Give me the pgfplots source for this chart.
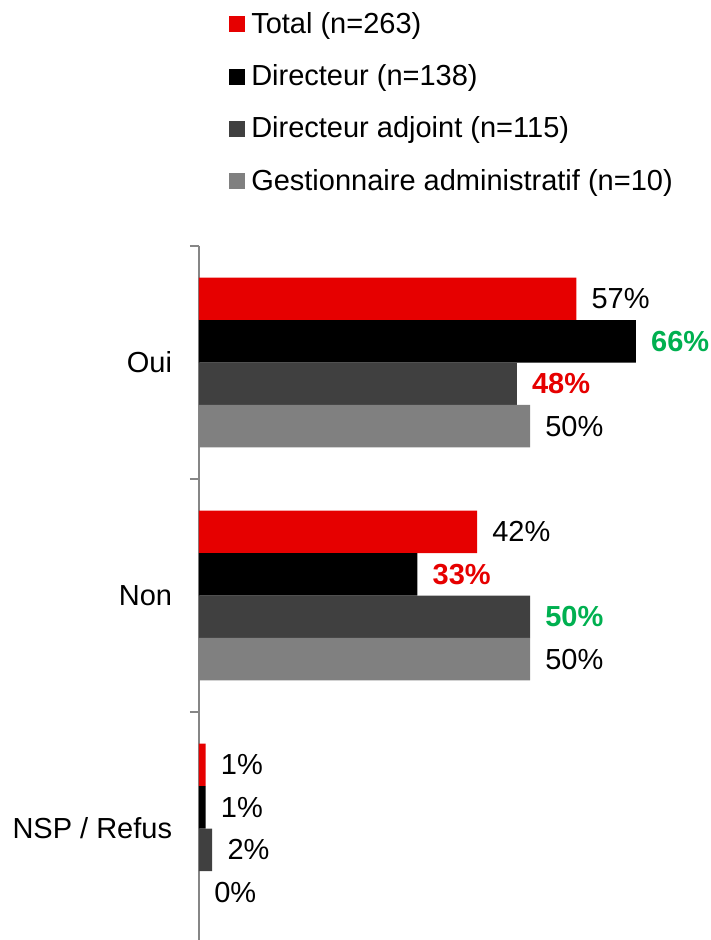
\documentclass[border=0pt]{standalone}
\usepackage{pgfplots}
\pgfplotsset{compat=1.18}
\usepackage{fontspec}
\setmainfont{Liberation Sans}
\definecolor{cred}{RGB}{230,0,0}
\definecolor{cdark}{RGB}{64,64,64}
\definecolor{cgray}{RGB}{128,128,128}
\definecolor{cgreen}{RGB}{0,176,80}
\definecolor{caxis}{RGB}{134,134,134}
\DeclareRobustCommand\G[1]{\textcolor{cgreen}{\bfseries #1\%}}
\DeclareRobustCommand\R[1]{\textcolor{cred}{\bfseries #1\%}}
\DeclareRobustCommand\N[1]{#1\%}
\begin{document}
\fontsize{21.75}{26}\selectfont
\begin{tikzpicture}
\useasboundingbox (0pt,0pt) rectangle (533.25pt,-705pt);
\begin{axis}[
  at={(149.25pt,-708.75pt)}, anchor=south west,
  scale only axis,
  width=372.4pt, height=524.25pt,
  xbar, bar width=31.875pt,
  xmin=0, xmax=75,
  ymin=-0.5, ymax=2.5,
  axis x line=none,
  axis y line*=left,
  y axis line style={draw=caxis, line width=1pt},
  ytick={-0.5,0.5,1.5,2.5},
  yticklabels={NSP / Refus, Non, Oui},
  y tick label as interval,
  tick align=outside,
  major tick length=6.75pt,
  ytick style={draw=caxis, line width=1pt},
  yticklabel style={font=\fontsize{21.75}{26}\selectfont, xshift=-6pt},
  point meta=explicit symbolic,
  nodes near coords,
  every node near coord/.append style={font=\fontsize{21.75}{26}\selectfont, anchor=west, xshift=4pt, text=black},
  legend style={draw=none, fill=none, inner sep=0pt, anchor=north west,
    at={(axis description cs:0.0604,1.3352)},
    font=\fontsize{21.75}{26}\selectfont,
    nodes={inner sep=0pt, text height=16pt, text depth=4.5pt},
    row sep=18.75pt, legend cell align=left},
  legend image code/.code={\fill[#1] (0pt,-5pt) rectangle (12pt,7pt); \path (16.5pt,0pt);},
]
\addplot[fill=cred, draw=none, bar shift=47.8pt] coordinates {(57,2) [\N{57}] (42,1) [\N{42}] (1,0) [\N{1}]};
\addplot[fill=black, draw=none, bar shift=15.94pt] coordinates {(66,2) [\G{66}] (33,1) [\R{33}] (1,0) [\N{1}]};
\addplot[fill=cdark, draw=none, bar shift=-15.94pt] coordinates {(48,2) [\R{48}] (50,1) [\G{50}] (2,0) [\N{2}]};
\addplot[fill=cgray, draw=none, bar shift=-47.8pt] coordinates {(50,2) [\N{50}] (50,1) [\N{50}] (0,0) [\N{0}]};
\legend{Total (n=263), Directeur (n=138), Directeur adjoint (n=115), Gestionnaire administratif (n=10)}
\end{axis}
\end{tikzpicture}
\end{document}
